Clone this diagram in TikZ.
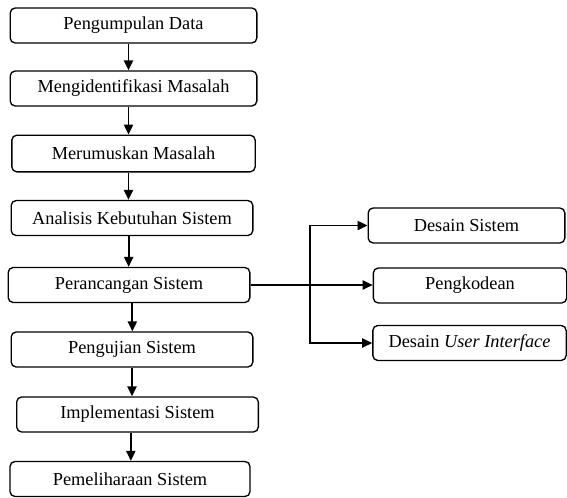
\documentclass[tikz,border=0pt]{standalone}
\usepackage{fontspec}
\setmainfont{Liberation Serif}
\usetikzlibrary{arrows.meta}

\tikzset{
	kotak/.style={draw, line width=0.8pt, rounded corners=3pt, minimum height=21pt, inner sep=0pt, font=\fontsize{11}{13}\selectfont},
	panah/.style={line width=1.1pt, -{Triangle[length=6pt,width=5.5pt]}}
}

\begin{document}
\begin{tikzpicture}[x=0.6pt,y=-0.6pt]
					\useasboundingbox (0,0) rectangle (567,497);
					\node[kotak, minimum width=148pt] (kumpul) at (133.5,25.5) {Pengumpulan Data};
					\node[kotak, minimum width=148pt] (identifikasi) at (133.5,88.5) {Mengidentifikasi Masalah};
					\node[kotak, minimum width=146pt, minimum height=22pt] (rumus) at (133.5,153.5) {Merumuskan Masalah};
					\node[kotak, minimum width=145pt] (analisis) at (132,218) {Analisis Kebutuhan Sistem};
					\node[kotak, minimum width=145pt] (rancang) at (129,285) {Perancangan Sistem};
					\node[kotak, minimum width=145pt] (uji) at (132,349.5) {Pengujian Sistem};
					\node[kotak, minimum width=145pt] (implementasi) at (137.5,414.5) {Implementasi Sistem};
					\node[kotak, minimum width=144pt] (pelihara) at (130,479) {Pemeliharaan Sistem};
					
					\node[kotak, minimum width=118pt] (desain) at (466.5,225.5) {Desain Sistem};
					\node[kotak, minimum width=116pt] (kode) at (470,285.5) {Pengkodean};
					\node[kotak, minimum width=116pt] (ui) at (469.5,343) {Desain \textit{User Interface}};
					
					\draw[panah] ([xshift=-3pt]kumpul.south) -- ([xshift=-3pt]kumpul.south |- identifikasi.north);
					\draw[panah] ([xshift=-3pt]identifikasi.south) -- ([xshift=-3pt]identifikasi.south |- rumus.north);
					\draw[panah] ([xshift=-3pt]rumus.south) -- ([xshift=-3pt]rumus.south |- analisis.north);
					\draw[panah] ([xshift=-2pt]analisis.south) -- ([xshift=-2pt]analisis.south |- rancang.north);
					\draw[panah] ([xshift=2pt]rancang.south) -- ([xshift=2pt]rancang.south |- uji.north);
					\draw[panah] (uji.south) -- (uji.south |- implementasi.north);
					\draw[panah] ([xshift=-4pt]implementasi.south) -- ([xshift=-4pt]implementasi.south |- pelihara.north);
					
					\coordinate (cabang) at (310,285);
					\draw[panah] (rancang.east) -- (rancang.east -| kode.west);
					\draw[panah] (cabang) |- (desain.west);
					\draw[panah] (cabang) |- (ui.west);
				\end{tikzpicture}
\end{document}
